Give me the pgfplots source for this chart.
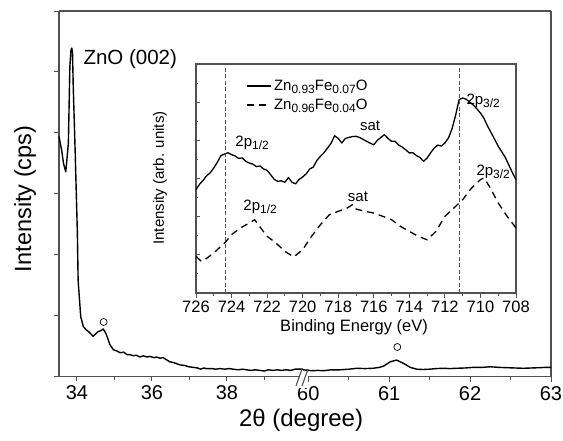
\documentclass[border=0pt]{standalone}
\usepackage{pgfplots}
\pgfplotsset{compat=1.18}
\usepackage{fontspec}
\setmainfont{Liberation Sans}
\newcommand\sub[1]{\raisebox{-0.45ex}{\fontsize{12}{12}\selectfont #1}}
\definecolor{spine}{HTML}{505050}
\begin{document}
\begin{tikzpicture}
\useasboundingbox (0pt,0pt) rectangle (563pt,440pt);
\pgfplotsset{
  mainax/.style={
    scale only axis, height=365.5pt, ymin=0, ymax=6,
    axis x line*=box,
    axis line style={-, color=spine, line width=1.2pt},
    every outer x axis line/.append style={-},
    every outer y axis line/.append style={-},
    tick style={color=spine, line width=1pt},
    major tick length=5pt, minor tick length=3pt,
    tick align=outside, xtick pos=bottom,
    /pgf/number format/assume math mode=true,
    tick label style={font=\fontsize{20}{24}\selectfont},
    xticklabel style={yshift=-1pt},
    clip=false,
  }
}
% ---------- left part of the broken axis ----------
\begin{axis}[mainax, at={(59pt,63.5pt)}, anchor=south west, width=244pt,
  xmin=33.52, xmax=40.03,
  axis y line*=left, ytick pos=left,
  xtick={34,36,38}, minor xtick={35,37,39},
  ytick={0,1,2,3,4,5,6}, yticklabels={},
  major tick length=4.5pt,
  ylabel={Intensity (cps)},
  ylabel style={at={(axis description cs:-0.139,0.486)}, anchor=center, font=\fontsize{23.5}{28}\selectfont},
  xlabel={2θ (degree)},
  xlabel style={at={(axis description cs:0.992,-0.119)}, anchor=center, font=\fontsize{24}{28}\selectfont},
]
\addplot[black, line width=1.4pt, line join=round] coordinates {
(33.52,3.94) (33.59,3.72) (33.64,3.50) (33.70,3.36) (33.73,3.55) (33.77,3.83)
(33.81,5.09) (33.84,5.36) (33.86,5.39) (33.88,5.33) (33.90,4.76) (33.95,3.72)
(34.01,2.36) (34.03,1.58) (34.10,0.98) (34.17,0.82) (34.24,0.77) (34.30,0.74)
(34.37,0.70) (34.43,0.66) (34.50,0.70) (34.57,0.74) (34.63,0.75) (34.70,0.78)
(34.75,0.73) (34.79,0.68) (34.88,0.52) (34.97,0.44) (35.06,0.42) (35.15,0.39)
(35.25,0.40) (35.33,0.36) (35.41,0.36) (35.50,0.34) (35.58,0.35) (35.68,0.32)
(35.77,0.34) (35.86,0.32) (35.95,0.33) (36.05,0.31) (36.13,0.32) (36.21,0.30)
(36.30,0.31) (36.40,0.27) (36.48,0.24) (36.57,0.23) (36.66,0.21) (36.75,0.19)
(36.88,0.18) (36.98,0.16) (37.10,0.15) (37.22,0.14) (37.30,0.12) (37.38,0.14)
(37.46,0.13) (37.60,0.13) (37.70,0.12) (37.81,0.13) (37.95,0.12) (38.05,0.13)
(38.17,0.12) (38.30,0.11) (38.42,0.12) (38.53,0.11) (38.65,0.10) (38.75,0.11)
(38.88,0.10) (39.00,0.09) (39.10,0.11) (39.23,0.10) (39.35,0.11) (39.45,0.10)
(39.59,0.11) (39.70,0.10) (39.82,0.12) (39.95,0.12) (40.03,0.12)
};
\addplot[only marks, mark=o, mark size=3.5pt, black, line width=0.7pt] coordinates {(34.71,0.895)};
\node[anchor=west, font=\fontsize{20.5}{24}\selectfont] at (axis cs:34.08,5.21) {ZnO (002)};
\end{axis}
% ---------- right part of the broken axis ----------
\begin{axis}[mainax, at={(303pt,63.5pt)}, anchor=south west, width=248pt,
  xmin=59.934, xmax=63,
  axis y line*=right, ytick=\empty,
  xtick={60,61,62,63}, minor xtick={60.5,61.5,62.5},
]
\addplot[black, line width=1.4pt, line join=round] coordinates {
(59.934,0.11) (60.04,0.095) (60.12,0.10) (60.19,0.095) (60.28,0.11) (60.39,0.11)
(60.50,0.12) (60.60,0.135) (60.70,0.13) (60.80,0.135) (60.88,0.15) (60.93,0.17)
(61.01,0.24) (61.09,0.27) (61.17,0.22) (61.26,0.15) (61.34,0.12) (61.42,0.115)
(61.50,0.12) (61.58,0.13) (61.67,0.135) (61.75,0.13) (61.83,0.135) (61.94,0.14)
(62.04,0.15) (62.15,0.15) (62.25,0.16) (62.35,0.15) (62.45,0.145) (62.55,0.14)
(62.66,0.135) (62.76,0.14) (62.86,0.145) (62.94,0.15) (63.00,0.15)
};
\addplot[only marks, mark=o, mark size=3.5pt, black, line width=0.7pt] coordinates {(61.10,0.484)};
\end{axis}
% axis break marks
\fill[white] (298.5pt,52pt) rectangle (307.5pt,68pt);
\draw[spine, line width=1.1pt] (296pt,54pt) -- (302pt,71pt);
\draw[spine, line width=1.1pt] (302pt,54pt) -- (308pt,71pt);
% ---------- inset ----------
\begin{axis}[at={(196pt,147pt)}, anchor=south west, scale only axis,
  width=320pt, height=229pt,
  x dir=reverse, xmin=708, xmax=726, ymin=0, ymax=12,
  xtick={708,710,...,726}, minor xtick={709,711,...,725},
  ytick={0,2,...,12}, minor ytick={1,3,...,11}, yticklabels={},
  xtick pos=bottom, ytick pos=left,
  x tick style={color=spine, line width=0.9pt},
  y tick style={color=spine, line width=0.9pt},
  xtick align=outside, ytick align=inside,
  major tick length=4.5pt, minor tick length=2.5pt,
  axis line style={color=spine, line width=1.1pt},
  /pgf/number format/assume math mode=true,
  /pgf/number format/1000 sep={},
  tick label style={font=\fontsize{16.5}{20}\selectfont},
  xlabel={Binding Energy (eV)},
  xlabel style={at={(axis description cs:0.494,-0.148)}, anchor=center, font=\fontsize{16.5}{20}\selectfont},
  ylabel={Intensity (arb. units)},
  ylabel style={at={(axis description cs:-0.1125,0.502)}, anchor=center, font=\fontsize{15}{18}\selectfont},
  legend style={at={(axis description cs:0.158,0.94)}, anchor=north west, draw=none, fill=none,
    font=\fontsize{15}{18}\selectfont, row sep=3pt, inner sep=0pt},
  legend cell align=left,
  legend image code/.code={\draw[#1] (0pt,0pt) -- (24pt,0pt);},
  clip=false,
]
\addplot[black, line width=1.3pt, line join=round] coordinates {
(726.0,5.41) (725.8,5.70) (725.6,5.90) (725.4,6.15) (725.2,6.30) (725.0,6.55)
(724.8,6.85) (724.6,7.20) (724.4,7.28) (724.2,7.35) (724.0,7.25) (723.8,7.18)
(723.6,7.05) (723.4,7.08) (723.2,6.90) (723.0,6.81) (722.8,6.75) (722.6,6.62)
(722.4,6.66) (722.2,6.50) (722.0,6.43) (721.8,6.20) (721.6,5.95) (721.4,5.85)
(721.2,5.88) (721.0,5.80) (720.8,6.05) (720.6,5.80) (720.4,5.72) (720.2,5.95)
(720.0,6.08) (719.8,6.25) (719.6,6.50) (719.4,6.60) (719.2,6.95) (719.0,7.16)
(718.8,7.35) (718.6,7.60) (718.4,7.85) (718.2,8.24) (718.0,8.10) (717.8,7.86)
(717.6,8.10) (717.4,8.15) (717.2,8.20) (717.0,8.21) (716.8,8.15) (716.6,8.05)
(716.4,7.95) (716.2,7.85) (716.0,7.77) (715.8,8.00) (715.6,8.15) (715.4,8.30)
(715.2,8.10) (715.0,7.95) (714.8,7.95) (714.6,7.75) (714.4,7.65) (714.2,7.50)
(714.0,7.34) (713.8,7.35) (713.6,7.20) (713.4,7.10) (713.2,6.90) (713.0,7.07)
(712.8,7.35) (712.6,7.60) (712.4,7.75) (712.2,7.70) (712.0,7.86) (711.8,8.12)
(711.6,8.60) (711.4,9.30) (711.2,10.13) (711.0,10.22) (710.8,10.15) (710.6,10.00)
(710.4,9.85) (710.2,9.65) (710.0,9.43) (709.8,9.15) (709.6,8.75) (709.4,8.40)
(709.2,8.05) (709.0,7.69) (708.8,7.40) (708.6,7.10) (708.4,6.70) (708.2,6.30)
(708.0,5.94)
};
\addlegendentry{Zn\sub{0.93}Fe\sub{0.07}O}
\addplot[black, line width=1.3pt, dash pattern=on 7pt off 5pt] coordinates {
(726.0,1.92) (725.7,1.66) (725.5,1.75) (725.0,2.10) (724.5,2.53) (724.3,2.71)
(724.0,3.06) (723.5,3.41) (723.0,3.67) (722.7,3.84) (722.5,3.58) (722.0,2.97)
(721.5,2.62) (721.0,2.18) (720.5,1.89) (720.0,2.27) (719.5,2.97) (719.0,3.58)
(718.5,4.10) (718.0,4.28) (717.5,4.45) (717.2,4.63) (717.0,4.40) (716.5,4.28)
(716.0,4.19) (715.5,4.02) (715.0,3.84) (714.5,3.49) (714.0,3.23) (713.5,2.97)
(713.0,2.79) (712.5,3.23) (712.0,4.02) (711.5,4.45) (711.0,4.89) (710.5,5.50)
(710.0,5.94) (709.8,6.03) (709.5,5.59) (709.0,4.72) (708.5,4.02) (708.0,3.41)
};
\addlegendentry{Zn\sub{0.96}Fe\sub{0.04}O}
\addplot[forget plot, spine, line width=1pt, dash pattern=on 4pt off 2.5pt] coordinates {(724.35,0) (724.35,12)};
\addplot[forget plot, spine, line width=1pt, dash pattern=on 4pt off 2.5pt] coordinates {(711.2,0) (711.2,12)};
\begin{scope}[font=\fontsize{15}{18}\selectfont]
\node[anchor=west] at (axis cs:723.98,7.86) {2p\sub{1/2}};
\node[anchor=west] at (axis cs:723.53,4.51) {2p\sub{1/2}};
\node at (axis cs:716.21,8.75) {sat};
\node at (axis cs:716.89,5.03) {sat};
\node[anchor=west] at (axis cs:710.98,10.06) {2p\sub{3/2}};
\node[anchor=west] at (axis cs:710.42,6.34) {2p\sub{3/2}};
\end{scope}
\end{axis}
\end{tikzpicture}
\end{document}
